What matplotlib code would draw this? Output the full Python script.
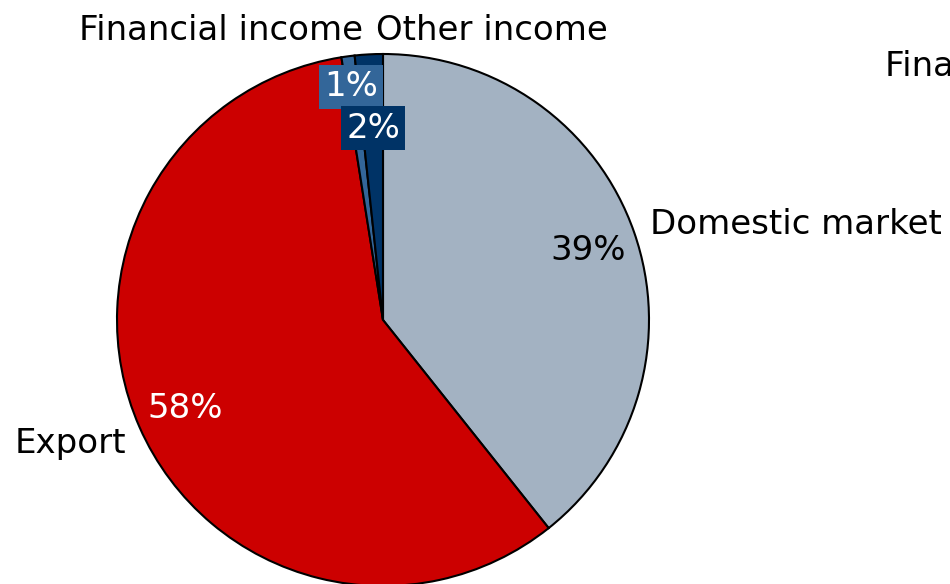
import matplotlib
matplotlib.use("Agg")
import matplotlib.pyplot as plt

categories = ["Domestic market", "Export", "Financial income", "Other income"]
values = [39.3, 58.2, 0.8, 1.7]
pct_labels = ["39%", "58%", "1%", "2%"]
colors = ["#a3b2c2", "#cc0000", "#336699", "#003366"]

W, H = 950, 584
fig = plt.figure(figsize=(W / 100, H / 100), dpi=100)
ax = fig.add_axes([0, 0, 1, 1])

cx, cy, r = 383, H - 320, 266
ax.pie(values, colors=colors, startangle=90, counterclock=False,
       center=(cx, cy), radius=r, frame=True,
       wedgeprops=dict(edgecolor="black", linewidth=1.5))
ax.set_xlim(0, W)
ax.set_ylim(0, H)
ax.set_aspect("equal")
ax.axis("off")

fs = 24.5
def T(x, y, s, **kw):
    ax.text(x, H - y, s, fontsize=fs, family="DejaVu Sans", va="center", **kw)

# category labels
T(650, 224, categories[0], ha="left")
T(126, 443, categories[1], ha="right")
T(221, 30, categories[2], ha="center")
T(492, 30, categories[3], ha="center")
T(885, 66, categories[2], ha="left")

# percentage labels
T(588, 250, pct_labels[0], ha="center", color="black")
T(185, 408, pct_labels[1], ha="center", color="white")
T(351, 87, pct_labels[2], ha="center", color="white",
  bbox=dict(boxstyle="square,pad=0.15", facecolor=colors[2], edgecolor="none"))
T(373, 128, pct_labels[3], ha="center", color="white",
  bbox=dict(boxstyle="square,pad=0.15", facecolor=colors[3], edgecolor="none"))

fig.savefig("out.png", dpi=100)
